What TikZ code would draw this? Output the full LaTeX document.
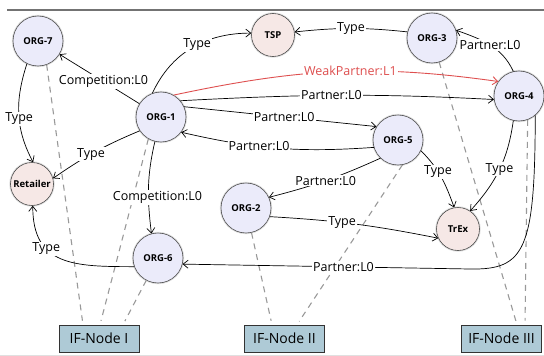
\documentclass[tikz,border=0pt]{standalone}
\usepackage{fontspec}
\setmainfont{Open Sans}
\usetikzlibrary{arrows.meta,calc}

\definecolor{orgfill}{HTML}{EBEBFA}
\definecolor{clsfill}{HTML}{F6E8E6}
\definecolor{iffill}{HTML}{AECAD6}
\definecolor{weakred}{HTML}{DE4F4F}

\begin{document}
\begin{tikzpicture}[
  x=1pt, y=1pt,
  org/.style={circle, draw=black!70, fill=orgfill, line width=0.6pt, minimum size=50pt, inner sep=0pt, font=\fontsize{9.5}{11}\selectfont\bfseries, preaction={draw=black, opacity=0.12, line width=2.4pt}},
  cls/.style={org, fill=clsfill, minimum size=43pt},
  ifbox/.style={rectangle, draw=black!80, fill=iffill, line width=0.6pt, minimum width=80pt, minimum height=27pt, inner sep=2pt, font=\fontsize{14}{16}\selectfont},
  arrow/.style={-{Straight Barb[length=5pt, width=8pt]}, line width=0.7pt},
  lbl/.style={fill=white, inner sep=1pt, font=\fontsize{12.5}{14}\selectfont},
  link/.style={draw=black!40, line width=1.1pt, dash pattern=on 6pt off 5pt, shorten >=4pt}
]
  \useasboundingbox (0,-356) rectangle (544,0);
  \draw[black!55, line width=2pt] (7,-10) -- (544,-10);
  \draw[black!12, line width=1pt] (0,-355.5) -- (544,-355.5);

  \node[org] (org7) at (38,-41) {ORG-7};
  \node[cls] (tsp) at (273,-35) {TSP};
  \node[org] (org3) at (432,-38) {ORG-3};
  \node[org] (org1) at (161,-117) {ORG-1};
  \node[org] (org4) at (519,-96) {ORG-4};
  \node[org] (org5) at (398,-140) {ORG-5};
  \node[cls] (retailer) at (32,-184) {Retailer};
  \node[org] (org2) at (246,-208) {ORG-2};
  \node[cls] (trex) at (458,-229) {TrEx};
  \node[org] (org6) at (158,-258) {ORG-6};
  \node[ifbox] (if1) at (99,-338.5) {IF-Node I};
  \node[ifbox] (if2) at (284.5,-338.5) {IF-Node II};
  \node[ifbox] (if3) at (501.5,-338.5) {IF-Node III};

  \draw[link] (org7.-70) -- ([xshift=-16pt]if1.north);
  \draw[link] (org1.-120) -- ([xshift=1pt]if1.north);
  \draw[link] (org6) -- ([xshift=24pt]if1.north);
  \draw[link] (org2) -- ([xshift=-12.5pt]if2.north);
  \draw[link] (org5.-80) -- ([xshift=12.5pt]if2.north);
  \draw[link] (org3) -- ([xshift=15.5pt]if3.north);
  \draw[link] (org4.-70) -- ([xshift=23.5pt]if3.north);

  \draw[arrow] (org7.-116) to[out=-108, in=118] node[lbl, pos=0.55]{Type} (retailer.87);
  \draw[arrow] (org1) -- node[lbl, pos=0.45]{Competition:L0} (org7);
  \draw[arrow] (org1.110) to[out=65, in=180] node[lbl, pos=0.55]{Type} (tsp.175);
  \draw[arrow] (org3.166) to[bend right=6] node[lbl]{Type} (tsp.8);
  \draw[arrow] (org4.103) to[out=115, in=-20] node[lbl]{Partner:L0} (org3.18);
  \draw[arrow, weakred, line width=0.9pt] (org1.60) to[out=12, in=172] node[lbl, text=weakred, pos=0.55]{WeakPartner:L1} (org4.145);
  \draw[arrow] (org1.40) to[out=3, in=177] node[lbl, pos=0.48]{Partner:L0} (org4.188);
  \draw[arrow] (org1.24) -- node[lbl, pos=0.52]{Partner:L0} (org5.148);
  \draw[arrow] (org5.197) to[out=184, in=-13] node[lbl, pos=0.6]{Partner:L0} (org1.-37);
  \draw[arrow] (org5.226) to[bend left=5] node[lbl]{Partner:L0} (org2.25);
  \draw[arrow] (org5.-25) to[out=-45, in=110] node[lbl, pos=0.4]{Type} (trex.100);
  \draw[arrow] (org4.-103) to[out=-98, in=48] node[lbl, pos=0.5]{Type} (trex.56);
  \draw[arrow] (org2.-20) to[bend left=4] node[lbl, pos=0.42]{Type} (trex.205);
  \draw[arrow] (org4.-50) .. controls (535,-250) and (525,-270) .. (470,-269) -- node[lbl, pos=0.44]{Partner:L0} (org6.-14);
  \draw[arrow] (org1.-104) to[out=-103, in=97] node[lbl, pos=0.62, xshift=9pt]{Competition:L0} (org6.105);
  \draw[arrow] (org1.213) to[bend right=6] node[lbl, pos=0.55]{Type} (retailer.15);
  \draw[arrow] (org6.200) to[out=180, in=-90, looseness=1.3] node[lbl, pos=0.66]{Type} (retailer.-88);
\end{tikzpicture}
\end{document}
